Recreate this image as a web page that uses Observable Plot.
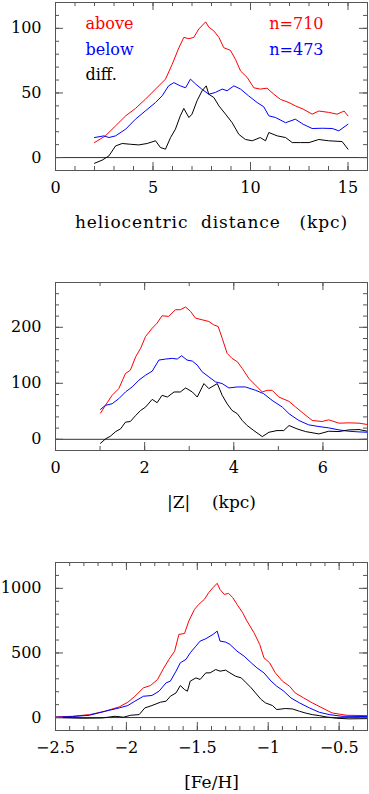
<!DOCTYPE html>
<html><head><meta charset="utf-8">
<script src="https://cdn.jsdelivr.net/npm/d3@7"></script>
<script src="https://cdn.jsdelivr.net/npm/@observablehq/plot@0.6"></script>
<style>
html,body{margin:0;padding:0;background:#fff;}
#chart svg{display:block;}
#chart svg text{font-family:"DejaVu Serif",serif;}
</style></head><body><div id="chart"></div>
<script>
// ---- Panel 1: heliocentric distance (kpc) ----
const distAbove = [[2.0,11.6],[2.56,16.8],[3.08,24.5],[3.6,32.3],[4.1,38],[4.6,45],[5.13,53],[5.64,60.7],[5.98,72],[6.3,84],[6.58,93],[6.84,92],[7.09,93],[7.35,99.5],[7.7,105],[7.86,101],[8.12,98],[8.38,93],[8.63,85],[8.97,83],[9.23,76],[9.49,67],[9.83,62],[10.17,54],[10.5,53],[10.85,53.7],[11.2,49],[11.54,45],[11.97,42.6],[12.3,40],[12.7,37.5],[13.16,33.6],[13.5,36],[14.0,35],[14.44,33.6],[14.8,36],[15.0,32.3]];
const distBelow = [[2.0,15.5],[2.48,16.8],[2.74,15.5],[3.08,16.8],[3.6,22],[4.1,29.7],[4.6,36],[5.13,42.6],[5.47,47.8],[5.8,55.5],[6.07,58],[6.4,55.5],[6.67,54],[6.92,60.7],[7.18,57],[7.5,53],[7.86,49],[8.2,50.4],[8.55,53],[8.8,51.7],[9.15,55.5],[9.49,53],[9.9,47.8],[10.34,42.6],[10.68,39.3],[10.94,32.3],[11.28,31],[11.8,27],[12.3,29.7],[12.7,25.8],[13.16,22.5],[13.68,22.7],[14.19,22.5],[14.53,20.7],[15.0,25.8]];
const distDiff = [[2.0,-4.4],[2.39,-2],[2.74,1.3],[3.08,9],[3.42,10.9],[3.85,10.3],[4.27,9.8],[4.7,10.9],[5.13,13],[5.38,7.8],[5.64,6.5],[5.9,15.5],[6.15,22],[6.4,32.3],[6.58,38],[6.84,31],[7.0,33.6],[7.26,44],[7.52,51.7],[7.73,55.5],[7.86,49],[8.12,46.5],[8.38,40],[8.72,33.6],[9.06,27],[9.4,18],[9.74,14],[10.09,13],[10.5,15.5],[10.77,13],[10.94,19.4],[11.37,16.8],[11.8,15.5],[12.14,11.6],[12.56,11.6],[13.0,11.6],[13.5,14],[14.0,13],[14.7,12.4],[15.0,6.5]];

// ---- Panel 2: |Z| (kpc) ----
const zAbove = [[1.01,46.8],[1.12,60.6],[1.27,78.5],[1.42,90.5],[1.57,117.5],[1.68,123.5],[1.8,147.5],[1.91,162.5],[2.02,183.5],[2.17,198.4],[2.28,207.4],[2.39,220.6],[2.54,219.4],[2.69,231.4],[2.8,231.4],[2.92,236.2],[3.03,228.4],[3.14,216.4],[3.29,213.4],[3.44,210.4],[3.55,204.4],[3.65,201.4],[3.74,180.5],[3.85,153.5],[3.96,144.5],[4.08,138.5],[4.19,126.5],[4.34,108.5],[4.49,96.5],[4.64,84.5],[4.75,87.5],[4.86,87.5],[5.01,75.5],[5.24,67.7],[5.39,57.5],[5.57,45.6],[5.76,33.6],[5.98,31.8],[6.13,34.8],[6.36,28.8],[6.58,29.4],[6.81,28.8],[7.0,26.4]];
const zBelow = [[1.01,53.4],[1.12,60.6],[1.27,63.5],[1.42,72.5],[1.57,84.5],[1.72,93.5],[1.87,105.5],[2.02,114.5],[2.17,121.7],[2.32,141.5],[2.47,143.3],[2.62,144.5],[2.73,143.3],[2.83,149.3],[2.95,141.5],[3.07,139.7],[3.18,132.5],[3.29,120.5],[3.44,111.5],[3.59,102.5],[3.74,99.5],[3.89,91.7],[4.08,93.5],[4.26,93.5],[4.49,87.5],[4.67,81.5],[4.86,69.5],[5.09,57.5],[5.24,45.6],[5.46,33.6],[5.68,25.8],[5.91,22.8],[6.13,20.4],[6.36,16.8],[6.58,14.4],[6.81,13.2],[7.0,12.6]];
const zDiff = [[1.01,-7.2],[1.12,0.6],[1.23,5.4],[1.35,13.8],[1.46,18.6],[1.57,30.6],[1.68,31.8],[1.8,42.6],[1.91,51.6],[2.02,57.5],[2.17,71.3],[2.28,65.3],[2.39,78.5],[2.51,75.5],[2.66,84.5],[2.8,84.5],[2.92,91.7],[3.07,84.5],[3.18,75.5],[3.33,99.5],[3.44,90.5],[3.63,99.5],[3.74,78.5],[3.85,63.5],[3.96,51.6],[4.08,45.6],[4.19,33.6],[4.3,24.6],[4.45,15.6],[4.64,4.8],[4.79,12.6],[4.97,15.6],[5.12,15.6],[5.24,24.6],[5.42,18.6],[5.61,13.8],[5.91,9.6],[6.13,14.4],[6.36,13.8],[6.58,16.8],[6.81,17.4],[7.0,14.4]];

// ---- Panel 3: [Fe/H] ----
const fehAbove = [[-2.5,5],[-2.38,10],[-2.26,23],[-2.15,49],[-2.05,83],[-1.99,119],[-1.94,165],[-1.88,230],[-1.83,248],[-1.78,295],[-1.74,377],[-1.7,450],[-1.66,514],[-1.63,643],[-1.59,651],[-1.56,747],[-1.52,837],[-1.49,876],[-1.45,915],[-1.42,966],[-1.39,1005],[-1.36,1039],[-1.34,992],[-1.31,953],[-1.28,961],[-1.25,928],[-1.22,876],[-1.18,811],[-1.15,747],[-1.1,656],[-1.06,566],[-1.03,462],[-0.99,424],[-0.95,346],[-0.9,282],[-0.85,243],[-0.81,191],[-0.75,152],[-0.69,114],[-0.62,75],[-0.55,36],[-0.45,18],[-0.3,15]];
const fehBelow = [[-2.5,3],[-2.38,8],[-2.26,18],[-2.15,49],[-2.05,75],[-1.99,93],[-1.94,127],[-1.88,165],[-1.82,171],[-1.77,204],[-1.72,269],[-1.69,282],[-1.65,359],[-1.62,424],[-1.58,450],[-1.55,501],[-1.51,553],[-1.48,592],[-1.44,610],[-1.39,643],[-1.36,669],[-1.34,592],[-1.3,584],[-1.27,566],[-1.22,514],[-1.17,475],[-1.12,424],[-1.08,385],[-1.03,346],[-0.98,282],[-0.94,243],[-0.89,204],[-0.84,152],[-0.78,114],[-0.71,75],[-0.64,41],[-0.57,23],[-0.48,10],[-0.3,8]];
const fehDiff = [[-2.5,0],[-2.31,-5],[-2.17,-3],[-2.08,10],[-2.02,3],[-1.97,18],[-1.91,23],[-1.87,75],[-1.82,93],[-1.76,119],[-1.72,127],[-1.69,165],[-1.65,191],[-1.62,248],[-1.59,217],[-1.57,204],[-1.55,282],[-1.51,307],[-1.48,295],[-1.44,346],[-1.41,346],[-1.37,372],[-1.34,359],[-1.3,367],[-1.27,346],[-1.23,320],[-1.19,307],[-1.16,274],[-1.12,230],[-1.09,191],[-1.05,140],[-1.02,114],[-0.97,93],[-0.94,62],[-0.88,70],[-0.83,67],[-0.78,49],[-0.74,36],[-0.69,23],[-0.64,15],[-0.59,5],[-0.52,-5],[-0.43,-10],[-0.3,-8]];

// ---- Labels and ticks ----
const seriesNames = ["above", "below", "diff."];
const seriesColors = ["#ff0000", "#0000ff", "#000000"];
const countLabels = ["n=710", "n=473"];
const axisTitles = ["heliocentric\u00a0 distance\u00a0\u00a0 (kpc)", "|Z|\u00a0\u00a0\u00a0 (kpc)", "[Fe/H]"];

const distXTicks = [0, 5, 10, 15];
const distYTicks = [0, 50, 100];
const zXTicks = [0, 2, 4, 6];
const zYTicks = [0, 100, 200];
const fehXTicks = [-2.5, -2, -1.5, -1, -0.5];
const fehYTicks = [0, 500, 1000];

const W = 369;
const TICK = "#555";
const FONT = "'DejaVu Serif', serif";
const fmtMinus = d => (d < 0 ? "\u2212" + Math.abs(d) : String(d));

function panel({xDomain, yDomain, xMajor, xMinor, yMajor, yMinor, height, marginBottom, series, title, titleSpacing = 0, extra = []}) {
  const mt = 2, ml = 55, mr = 2;
  const fh = height - mt - marginBottom;
  const fw = W - ml - mr;
  const marks = [
    Plot.ruleY([0], {stroke: "#333", strokeWidth: 1}),
    ...series.map((s, i) => Plot.line(s, {x: d => d[0], y: d => d[1], stroke: seriesColors[i], strokeWidth: 1, clip: true})),
    Plot.ruleX(xMinor, {stroke: TICK, insetTop: fh - 4}),
    Plot.ruleX(xMinor, {stroke: TICK, insetBottom: fh - 4}),
    Plot.ruleX(xMajor, {stroke: TICK, insetTop: fh - 8}),
    Plot.ruleX(xMajor, {stroke: TICK, insetBottom: fh - 8}),
    Plot.ruleY(yMinor, {stroke: TICK, insetRight: fw - 4}),
    Plot.ruleY(yMinor, {stroke: TICK, insetLeft: fw - 4}),
    Plot.ruleY(yMajor, {stroke: TICK, insetRight: fw - 8}),
    Plot.ruleY(yMajor, {stroke: TICK, insetLeft: fw - 8}),
    Plot.frame({stroke: TICK}),
    Plot.axisX(xMajor, {tickSize: 0, tickPadding: 11, tickFormat: fmtMinus, fontSize: 16, label: null}),
    Plot.axisY(yMajor, {tickSize: 0, tickPadding: 14, tickFormat: d => String(d), fontSize: 16, label: null}),
    Plot.text([title], {text: d => d, frameAnchor: "bottom", dy: 57, lineAnchor: "bottom", fontSize: 17}),
    ...extra
  ];
  const svg = Plot.plot({
    width: W, height, marginTop: mt, marginLeft: ml, marginRight: mr, marginBottom,
    style: {fontFamily: FONT, fontSize: "16px", color: "#000", background: "#fff"},
    x: {domain: xDomain, axis: null},
    y: {domain: yDomain, axis: null},
    marks
  });
  if (titleSpacing) {
    d3.select(svg).selectAll("text")
      .filter(function () { return this.textContent === title; })
      .attr("letter-spacing", titleSpacing + "px");
  }
  return svg;
}

const legendDy = [26, 52, 77.5];
const legendMarks = [
  ...seriesNames.map((n, i) => Plot.text([n], {text: d => d, frameAnchor: "top-left", dx: 30, dy: legendDy[i], lineAnchor: "bottom", textAnchor: "start", fill: seriesColors[i], fontSize: 16})),
  ...countLabels.map((n, i) => Plot.text([n], {text: d => d, frameAnchor: "top-right", dx: -44, dy: legendDy[i], lineAnchor: "bottom", textAnchor: "end", fill: seriesColors[i], fontSize: 16}))
];

const root = document.getElementById("chart");
root.append(panel({
  xDomain: [0, 16], yDomain: [-10, 120],
  xMajor: distXTicks, xMinor: d3.range(0, 17), yMajor: distYTicks, yMinor: d3.range(-10, 121, 10),
  height: 280, marginBottom: 110, series: [distAbove, distBelow, distDiff], title: axisTitles[0], titleSpacing: 0.9, extra: legendMarks
}));
root.append(panel({
  xDomain: [0, 7], yDomain: [-20, 280],
  xMajor: zXTicks, xMinor: d3.range(0, 8), yMajor: zYTicks, yMinor: d3.range(-20, 281, 20),
  height: 280, marginBottom: 110, series: [zAbove, zBelow, zDiff], title: axisTitles[1]
}));
root.append(panel({
  xDomain: [-2.5, -0.3], yDomain: [-100, 1200],
  xMajor: fehXTicks, xMinor: d3.range(-25, -2).map(d => d / 10), yMajor: fehYTicks, yMinor: d3.range(-100, 1201, 100),
  height: 234, marginBottom: 64, series: [fehAbove, fehBelow, fehDiff], title: axisTitles[2]
}));
</script></body></html>
